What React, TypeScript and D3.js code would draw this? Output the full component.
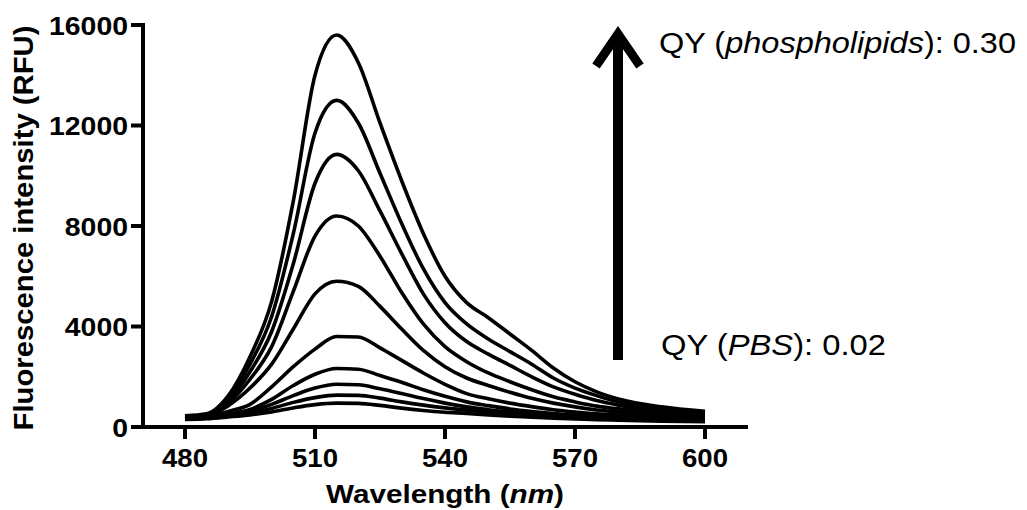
import React from 'react';
import * as d3 from 'd3';

// emission wavelengths (nm) that each spectrum below is read at
const wavelengths = [480, 485, 490, 495, 500, 505, 510, 515, 520, 525, 530, 535, 540, 545, 550, 555, 560, 565, 570, 575, 580, 590, 600];

// fluorescence (RFU), phospholipids (top) down to PBS (bottom)
const s1 = [450, 530, 1250, 2800, 5000, 9000, 14000, 15600, 14500, 12100, 9800, 7700, 6000, 4950, 4350, 3700, 3050, 2350, 1800, 1400, 1120, 800, 620];
const s2 = [420, 500, 1150, 2500, 4400, 7700, 11700, 13000, 12100, 10100, 8100, 6300, 4950, 4100, 3500, 3000, 2500, 1950, 1550, 1250, 1000, 720, 560];
const s3 = [400, 480, 1050, 2200, 3800, 6500, 9700, 10850, 10200, 8600, 6900, 5300, 4150, 3400, 2900, 2450, 2000, 1600, 1300, 1050, 870, 650, 520];
const s4 = [380, 450, 950, 1900, 3200, 5400, 7600, 8400, 8000, 6800, 5350, 4100, 3200, 2600, 2150, 1800, 1480, 1200, 1000, 830, 720, 560, 470];
const s5 = [360, 420, 850, 1550, 2500, 3900, 5300, 5800, 5600, 4800, 3900, 3050, 2400, 1950, 1650, 1380, 1140, 950, 800, 680, 600, 480, 420];
const s6 = [340, 400, 620, 900, 1600, 2400, 3100, 3600, 3580, 3150, 2650, 2150, 1700, 1330, 1120, 950, 810, 690, 600, 530, 480, 400, 360];
const s7 = [330, 380, 520, 700, 1100, 1650, 2100, 2330, 2300, 2050, 1780, 1480, 1220, 1000, 850, 720, 620, 540, 480, 430, 400, 340, 310];
const s8 = [320, 370, 480, 620, 900, 1250, 1550, 1700, 1680, 1520, 1330, 1130, 950, 800, 690, 600, 530, 470, 420, 380, 350, 300, 270];
const s9 = [310, 350, 440, 550, 740, 980, 1170, 1270, 1260, 1150, 1000, 870, 760, 670, 590, 520, 460, 410, 370, 340, 310, 270, 240];
const s10 = [300, 330, 400, 480, 600, 760, 890, 950, 940, 860, 750, 660, 590, 540, 480, 430, 390, 350, 320, 290, 270, 230, 210];
const spectra = [s1, s2, s3, s4, s5, s6, s7, s8, s9, s10];

const xTicks = [480, 510, 540, 570, 600];
const yTicks = [0, 4000, 8000, 12000, 16000];

const FONT = '"Liberation Sans", Arial, sans-serif';

const App = () => {
    const x = d3.scaleLinear().domain([480, 600]).range([185, 705]);
    const y = d3.scaleLinear().domain([0, 16000]).range([427, 25]);

    const lineGen = d3.line<number>()
        .x((_, i) => x(wavelengths[i]))
        .y(d => y(d))
        .curve(d3.curveMonotoneX);

    const axisLeft = 143;
    const axisRight = 748;

    return (
        <svg width={1027} height={510} style={{ position: 'absolute', left: 0, top: 0, background: '#fff' }}>
            {/* spectra */}
            {spectra.map((s, i) => (
                <path key={i} d={lineGen(s) || ''} fill="none" stroke="#000" strokeWidth={3.6} strokeLinejoin="round" />
            ))}

            {/* axes */}
            <line x1={axisLeft} x2={axisLeft} y1={y(16000) - 2} y2={y(0) + 2} stroke="#000" strokeWidth={4} />
            <line x1={axisLeft - 2} x2={axisRight} y1={y(0)} y2={y(0)} stroke="#000" strokeWidth={4} />
            {yTicks.map(t => (
                <g key={t}>
                    <line x1={axisLeft - 12} x2={axisLeft} y1={y(t)} y2={y(t)} stroke="#000" strokeWidth={4} />
                    <text x={128} y={y(t) + 9.5} textAnchor="end" fontFamily={FONT} fontWeight="bold" fontSize={26}
                        textLength={String(t).length * 15.8} lengthAdjust="spacingAndGlyphs">{t}</text>
                </g>
            ))}
            {xTicks.map(t => (
                <g key={t}>
                    <line x1={x(t)} x2={x(t)} y1={y(0)} y2={y(0) + 12} stroke="#000" strokeWidth={4} />
                    <text x={x(t)} y={467} textAnchor="middle" fontFamily={FONT} fontWeight="bold" fontSize={26}
                        textLength={46} lengthAdjust="spacingAndGlyphs">{t}</text>
                </g>
            ))}

            {/* axis titles */}
            <text x={445} y={503} textAnchor="middle" fontFamily={FONT} fontWeight="bold" fontSize={26}
                textLength={238} lengthAdjust="spacingAndGlyphs">
                Wavelength (<tspan fontStyle="italic">nm</tspan>)
            </text>
            <text transform="translate(33,228) rotate(-90)" textAnchor="middle" fontFamily={FONT} fontWeight="bold" fontSize={28}
                textLength={405} lengthAdjust="spacingAndGlyphs">
                Fluorescence intensity (RFU)
            </text>

            {/* arrow */}
            <line x1={618} x2={618} y1={360} y2={38} stroke="#000" strokeWidth={10} />
            <polyline points="596,66 618,34 640,66" fill="none" stroke="#000" strokeWidth={9} strokeLinejoin="miter" strokeMiterlimit={10} />

            {/* annotations */}
            <text x={659} y={53} fontFamily={FONT} fontSize={30} textLength={357} lengthAdjust="spacingAndGlyphs">
                QY (<tspan fontStyle="italic">phospholipids</tspan>): 0.30
            </text>
            <text x={661} y={355} fontFamily={FONT} fontSize={30} textLength={225} lengthAdjust="spacingAndGlyphs">
                QY (<tspan fontStyle="italic">PBS</tspan>): 0.02
            </text>
        </svg>
    );
};

export default App;
